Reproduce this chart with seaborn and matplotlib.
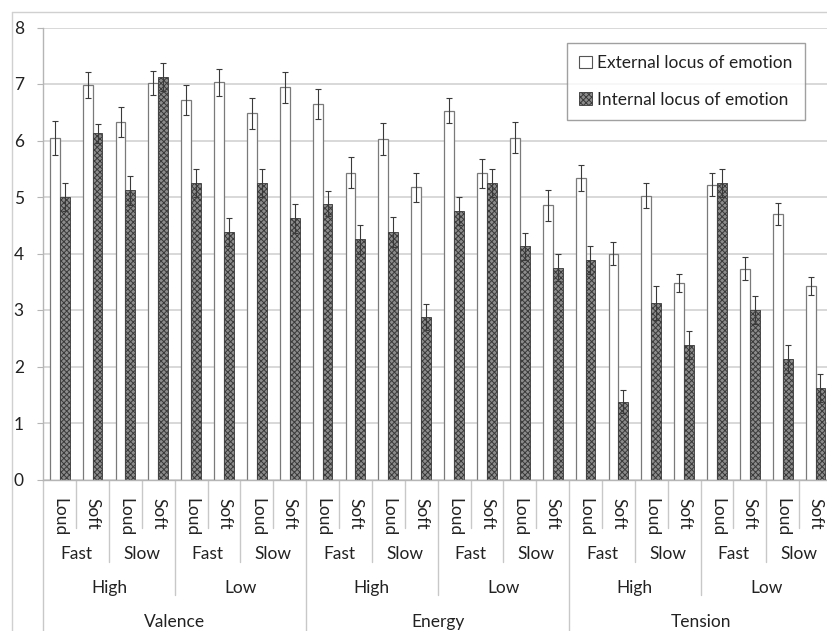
import matplotlib
matplotlib.use("Agg")
import matplotlib.pyplot as plt
import seaborn as sns
import pandas as pd
from matplotlib.patches import Patch
from matplotlib.lines import Line2D
from matplotlib.transforms import blended_transform_factory

# ---------------- data ----------------
dimensions = ["Valence", "Energy", "Tension"]
levels = ["High", "Low"]
tempos = ["Fast", "Slow"]
loudness = ["Loud", "Soft"]
series = ["External locus of emotion", "Internal locus of emotion"]

external = [6.05, 6.98, 6.33, 7.02, 6.72, 7.03, 6.48, 6.94,
            6.65, 5.43, 6.03, 5.17, 6.53, 5.42, 6.05, 4.85,
            5.33, 4.00, 5.02, 3.48, 5.22, 3.73, 4.70, 3.42]
internal = [5.00, 6.13, 5.12, 7.13, 5.25, 4.38, 5.25, 4.62,
            4.88, 4.25, 4.38, 2.87, 4.75, 5.25, 4.13, 3.75,
            3.88, 1.38, 3.13, 2.38, 5.25, 3.00, 2.13, 1.62]
external_err = [0.30, 0.23, 0.26, 0.21, 0.26, 0.24, 0.27, 0.27,
                0.27, 0.27, 0.28, 0.25, 0.22, 0.26, 0.28, 0.27,
                0.23, 0.20, 0.22, 0.16, 0.20, 0.20, 0.20, 0.16]
internal_err = [0.25, 0.17, 0.26, 0.25, 0.25, 0.24, 0.25, 0.25,
                0.22, 0.25, 0.27, 0.23, 0.25, 0.25, 0.24, 0.24,
                0.25, 0.20, 0.30, 0.24, 0.25, 0.24, 0.25, 0.25]
yticks = [0, 1, 2, 3, 4, 5, 6, 7, 8]

# ---------------- build table ----------------
conds, loud_lbl = [], []
for d in dimensions:
    for lv in levels:
        for t in tempos:
            for ld in loudness:
                conds.append(f"{d}|{lv}|{t}|{ld}")
                loud_lbl.append(ld)
rows = []
for i, c in enumerate(conds):
    rows.append({"cond": c, "series": series[0], "value": external[i]})
    rows.append({"cond": c, "series": series[1], "value": internal[i]})
df = pd.DataFrame(rows)

sns.set_style("white")
plt.rcParams["font.family"] = ["Lato", "DejaVu Sans"]
plt.rcParams["hatch.linewidth"] = 0.7

W, H = 828, 631
fig = plt.figure(figsize=(W / 100, H / 100), dpi=100)
ax_left, ax_right = 43.3 / W, 832 / W
ax_bottom, ax_top = 1 - 479.5 / H, 1 - 27.5 / H
ax = fig.add_axes([ax_left, ax_bottom, ax_right - ax_left, ax_top - ax_bottom])

sns.barplot(data=df, x="cond", y="value", hue="series", order=conds,
            hue_order=series, palette=["white", "#6a6a6a"], width=0.6,
            errorbar=None, legend=False, ax=ax, saturation=1)

INT_FACE, INT_EDGE, INT_HATCH = "#8c8c8c", "#3a3a3a", "xxxxxx"
ext_c, int_c = ax.containers[0], ax.containers[1]
for p in ext_c:
    p.set_facecolor("white")
    p.set_edgecolor("#7a7a7a")
    p.set_linewidth(0.9)
for p in int_c:
    p.set_facecolor(INT_FACE)
    p.set_edgecolor(INT_EDGE)
    p.set_hatch(INT_HATCH)
    p.set_linewidth(0.6)

for cont, err in ((ext_c, external_err), (int_c, internal_err)):
    xs = [p.get_x() + p.get_width() / 2 for p in cont]
    ys = [p.get_height() for p in cont]
    ax.errorbar(xs, ys, yerr=err, fmt="none", ecolor="#3a3a3a",
                elinewidth=0.8, capsize=2.3, capthick=0.8, zorder=5)

ax.set_ylim(0, 8)
ax.set_xlim(-0.5, len(conds) - 0.5)
ax.set_yticks(yticks)
ax.set_yticklabels([str(v) for v in yticks], fontsize=12.5, color="#222222")
ax.tick_params(axis="y", length=4, width=0.8, color="#b5b5b5", pad=10, left=True)
ax.set_xticks(range(len(conds)))
ax.set_xticklabels(loud_lbl, rotation=270, fontsize=12.5, color="#222222",
                   va="top", ha="center")
ax.tick_params(axis="x", length=0, pad=13)
ax.set_xlabel("")
ax.set_ylabel("")
ax.grid(axis="y", color="#d2d2d2", linewidth=1.2)
ax.grid(axis="x", visible=False)
ax.set_axisbelow(True)
for s in ["top", "right"]:
    ax.spines[s].set_visible(False)
for s in ["left", "bottom"]:
    ax.spines[s].set_color("#b5b5b5")
    ax.spines[s].set_linewidth(1.0)

# ---------------- hierarchical category axis ----------------
tr = blended_transform_factory(ax.transData, ax.transAxes)
sep_col = "#c8c8c8"
n = len(conds)
y_loud, y_tempo, y_level, y_dim = -0.107, -0.183, -0.256, -0.40
for b in range(n + 1):
    xb = b - 0.5
    if b % 8 == 0:
        yb = y_dim
    elif b % 4 == 0:
        yb = y_level
    elif b % 2 == 0:
        yb = y_tempo
    else:
        yb = y_loud
    ax.plot([xb, xb], [0, yb], transform=tr, color=sep_col, lw=1.0,
            clip_on=False, zorder=1)

for i in range(n // 2):
    ax.text(2 * i + 0.5, -0.165, tempos[i % 2], transform=tr, ha="center",
            va="center", fontsize=12.5, color="#222222")
for i in range(n // 4):
    ax.text(4 * i + 1.5, -0.240, levels[i % 2], transform=tr, ha="center",
            va="center", fontsize=12.5, color="#222222")
for i in range(n // 8):
    ax.text(8 * i + 3.5, -0.316, dimensions[i], transform=tr, ha="center",
            va="center", fontsize=12.5, color="#222222")

# ---------------- legend ----------------
handles = [Patch(facecolor="white", edgecolor="#555555", linewidth=0.8),
           Patch(facecolor=INT_FACE, edgecolor=INT_EDGE, hatch=INT_HATCH, linewidth=0.6)]
leg = ax.legend(handles, series, loc="upper left", bbox_to_anchor=(0.664, 0.966),
                frameon=True, fancybox=False, fontsize=12.5, handlelength=0.75,
                handleheight=0.75, handletextpad=0.3, labelspacing=1.2,
                borderpad=0.7, borderaxespad=0)
leg.get_frame().set_edgecolor("#888888")
leg.get_frame().set_linewidth(1.0)
for t in leg.get_texts():
    t.set_color("#222222")

# ---------------- outer chart border ----------------
fig.add_artist(Line2D([12 / W, 12 / W], [0, 1 - 12 / H], transform=fig.transFigure,
                      color="#d0d0d0", lw=1.0))
fig.add_artist(Line2D([12 / W, 1], [1 - 12 / H, 1 - 12 / H], transform=fig.transFigure,
                      color="#d0d0d0", lw=1.0))

fig.savefig("out.png", dpi=100)
